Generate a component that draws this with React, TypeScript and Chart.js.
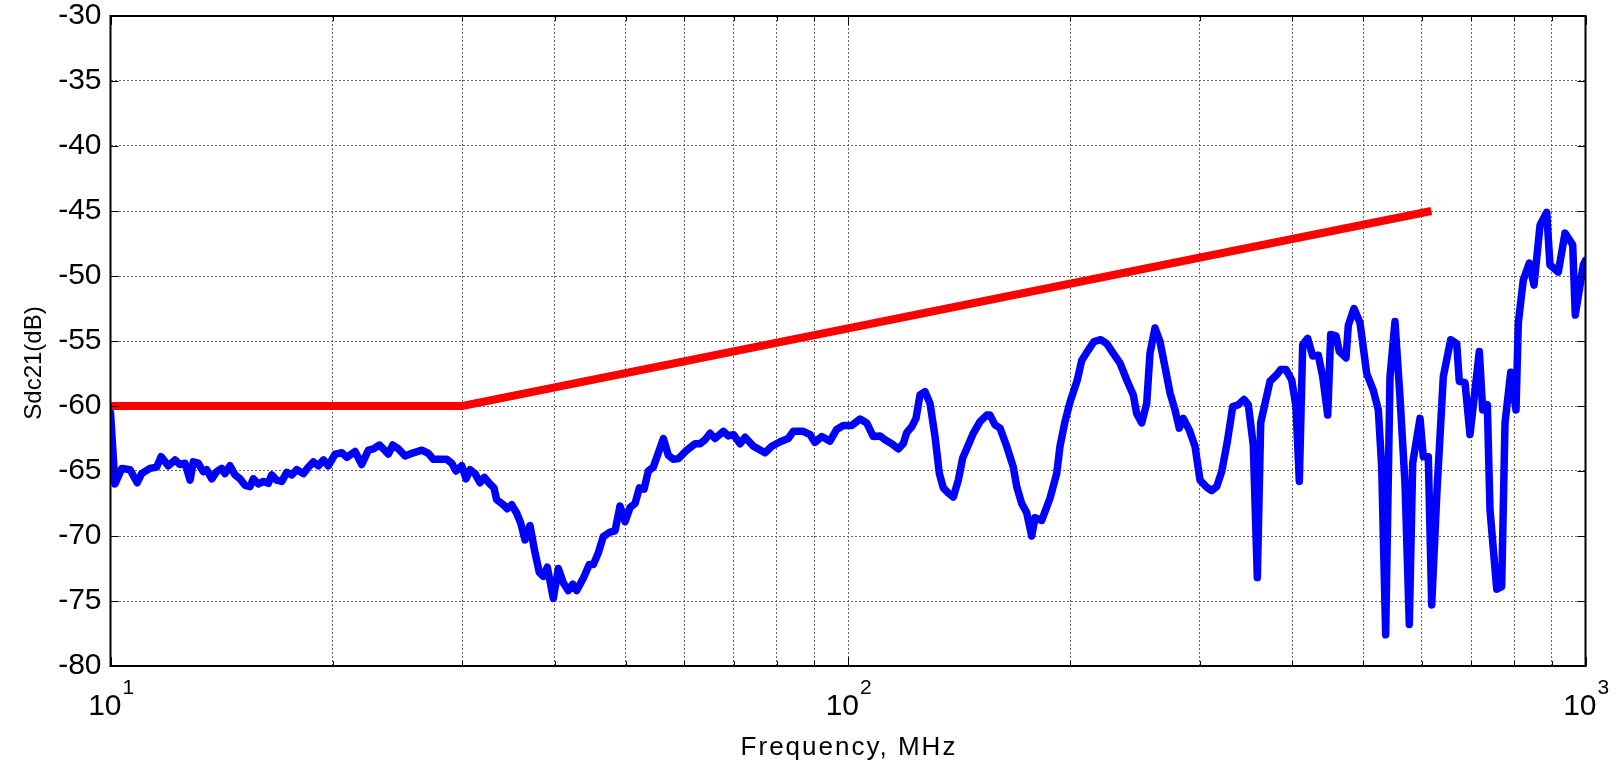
import React, { useEffect, useRef } from 'react';
import { Chart, registerables } from 'chart.js';

Chart.register(...registerables);

// Measured Sdc21 trace (frequency in MHz, value in dB)
const freqMHz = [
  10.0, 10.14, 10.36, 10.63, 10.87, 11.02, 11.31, 11.55, 11.71, 11.98,
  12.23, 12.42, 12.62, 12.82, 12.95, 13.15, 13.36, 13.5, 13.72, 13.93,
  14.15, 14.3, 14.52, 14.75, 14.98, 15.22, 15.46, 15.62, 15.87, 16.12,
  16.37, 16.54, 16.8, 17.07, 17.34, 17.61, 17.89, 18.26, 18.55, 18.84,
  19.14, 19.44, 19.74, 20.16, 20.59, 20.91, 21.46, 21.91, 22.37, 22.72,
  23.15, 23.44, 23.81, 24.14, 24.57, 25.09, 25.74, 26.43, 26.98, 27.4,
  28.57, 29.02, 29.41, 29.94, 30.35, 30.73, 31.21, 31.7, 32.13, 32.7,
  33.11, 33.39, 34.09, 34.52, 35.0, 35.55, 35.99, 36.48, 37.05, 37.64,
  38.15, 38.62, 39.11, 39.85, 40.48, 41.11, 41.76, 42.34, 42.87, 43.76,
  44.59, 45.15, 45.86, 46.58, 47.57, 48.32, 49.08, 49.85, 50.64, 51.44,
  52.13, 52.9, 53.61, 54.46, 55.32, 56.19, 57.07, 57.97, 58.89, 60.45,
  62.03, 63.01, 64.0, 65.01, 66.03, 67.77, 68.83, 69.92, 71.4, 72.52,
  74.43, 77.19, 78.83, 80.9, 82.99, 84.29, 86.97, 88.81, 90.2, 92.11,
  94.53, 96.53, 98.54, 101.16, 103.82, 106.01, 108.22, 110.51, 112.25, 114.62,
  117.01, 118.85, 120.12, 122.01, 123.66, 125.21, 127.18, 129.19, 131.22, 133.0,
  134.67, 136.77, 138.93, 141.12, 143.07, 145.59, 147.88, 151.01, 154.2, 155.8,
  158.25, 160.74, 164.13, 167.56, 169.35, 171.99, 174.69, 177.45, 179.3, 183.09,
  187.89, 191.86, 193.85, 196.9, 200.0, 204.62, 207.43, 211.76, 215.55, 220.1,
  224.27, 228.94, 233.79, 238.75, 243.7, 246.3, 250.19, 254.1, 256.74, 260.79,
  264.88, 269.05, 273.3, 277.57, 281.31, 284.87, 290.25, 295.47, 300.12, 306.45,
  311.27, 316.18, 321.16, 326.82, 332.39, 338.24, 344.31, 348.96, 354.43, 358.92,
  362.74, 367.68, 373.44, 381.3, 386.13, 392.55, 399.62, 405.0, 409.21, 413.56,
  420.09, 426.66, 434.22, 440.2, 447.16, 451.34, 458.86, 463.64, 473.43, 476.85,
  485.41, 494.57, 505.05, 515.57, 523.69, 529.26, 535.87, 543.14, 551.66, 560.33,
  569.2, 576.87, 583.04, 596.52, 602.68, 612.16, 618.68, 628.99, 641.5, 656.45,
  668.88, 674.31, 686.48, 697.21, 706.61, 717.84, 725.42, 736.01, 742.2, 757.97,
  769.77, 777.78, 791.79, 804.97, 810.77, 823.48, 839.13, 851.44, 867.65, 885.92,
  895.05, 918.56, 938.02, 960.82, 968.6, 993.22, 1000.0,
];

const sdc21Db = [
  -60.5, -66.0, -64.8, -64.9, -65.9, -65.2, -64.8, -64.7, -63.9, -64.6,
  -64.15, -64.5, -64.4, -65.7, -64.3, -64.4, -65.05, -64.9, -65.6, -65.05,
  -64.8, -65.2, -64.6, -65.3, -65.6, -66.1, -66.2, -65.6, -66.0, -65.8,
  -65.95, -65.3, -65.7, -65.8, -65.1, -65.3, -64.9, -65.2, -64.7, -64.3,
  -64.6, -64.15, -64.6, -63.7, -63.6, -63.95, -63.5, -64.5, -63.4, -63.3,
  -63.0, -63.3, -63.7, -63.0, -63.3, -63.85, -63.6, -63.4, -63.65, -64.1,
  -64.1, -64.4, -65.0, -64.6, -65.6, -64.9, -65.2, -65.9, -65.5, -66.0,
  -66.3, -67.2, -67.6, -67.9, -67.6, -68.25, -69.0, -70.3, -69.2, -71.3,
  -72.8, -73.1, -72.4, -74.8, -72.5, -73.6, -74.2, -73.7, -74.2, -73.25,
  -72.2, -72.2, -71.3, -70.05, -69.7, -69.6, -67.7, -68.9, -67.8, -67.5,
  -66.3, -66.4, -65.0, -64.7, -63.6, -62.5, -63.8, -64.1, -64.05, -63.4,
  -62.9, -62.9, -62.6, -62.1, -62.5, -61.95, -62.3, -62.2, -62.9, -62.4,
  -63.1, -63.6, -63.1, -62.75, -62.5, -61.95, -61.95, -62.2, -62.8, -62.35,
  -62.7, -61.8, -61.5, -61.5, -61.0, -61.3, -62.35, -62.3, -62.6, -62.9,
  -63.3, -62.9, -62.05, -61.6, -60.95, -59.15, -58.9, -59.8, -62.35, -65.2,
  -66.3, -66.7, -67.0, -65.7, -64.0, -63.0, -62.1, -61.2, -60.7, -60.7,
  -61.45, -61.7, -63.1, -64.7, -66.2, -67.5, -68.2, -70.0, -68.6, -68.8,
  -67.1, -65.2, -63.1, -61.2, -59.7, -58.0, -56.5, -55.7, -55.05, -54.9,
  -55.2, -55.95, -56.7, -58.0, -59.15, -60.6, -61.3, -59.8, -55.95, -54.0,
  -55.05, -57.0, -59.0, -60.3, -61.7, -60.95, -61.85, -63.1, -65.7, -66.25,
  -66.5, -66.2, -65.05, -62.75, -60.05, -59.9, -59.5, -59.9, -63.0, -73.2,
  -61.3, -59.8, -58.1, -57.6, -57.2, -57.2, -58.0, -60.05, -65.8, -55.3,
  -54.8, -56.15, -56.1, -57.75, -60.7, -54.5, -54.6, -55.8, -56.3, -53.8,
  -52.5, -53.6, -57.5, -58.8, -60.3, -64.7, -77.6, -57.75, -53.5, -59.3,
  -65.95, -76.8, -64.4, -60.95, -63.9, -63.9, -75.3, -66.5, -57.75, -54.9,
  -55.2, -58.1, -58.2, -62.2, -59.3, -55.8, -60.3, -59.9, -68.0, -74.1,
  -73.9, -61.3, -57.4, -60.3, -53.6, -50.3, -49.0, -50.7, -46.1, -45.1,
  -49.15, -49.7, -46.7, -47.6, -53.0, -49.15, -48.8,
];

// Limit line
const limitFreqMHz = [10, 30, 618];
const limitDb = [-60, -60, -45];

// Axes
const yTickValues = [-80, -75, -70, -65, -60, -55, -50, -45, -40, -35, -30];
const xGridValues = [10, 20, 30, 40, 50, 60, 70, 80, 90, 100, 200, 300, 400, 500, 600, 700, 800, 900, 1000];
const xDecadeValues = [10, 100, 1000];
const xDecadeExponents = ['1', '2', '3'];

const xTitle = 'Frequency, MHz';
const yTitle = 'Sdc21(dB)';

const FONT = '"Liberation Sans", Arial, Helvetica, sans-serif';

const overlayPlugin = {
  id: 'matlabOverlay',
  afterDraw(chart: any) {
    const { ctx, chartArea: a, scales } = chart;
    const xs = scales.x;
    const ys = scales.y;
    ctx.save();

    // inward tick marks
    ctx.strokeStyle = '#000';
    ctx.lineWidth = 1;
    ctx.setLineDash([]);
    ctx.beginPath();
    xGridValues.forEach((v) => {
      const px = Math.round(xs.getPixelForValue(v)) + 0.5;
      const len = xDecadeValues.includes(v) ? 9 : 5;
      ctx.moveTo(px, a.bottom);
      ctx.lineTo(px, a.bottom - len);
      ctx.moveTo(px, a.top);
      ctx.lineTo(px, a.top + len);
    });
    yTickValues.forEach((v) => {
      const py = Math.round(ys.getPixelForValue(v)) + 0.5;
      ctx.moveTo(a.left, py);
      ctx.lineTo(a.left + 8, py);
      ctx.moveTo(a.right, py);
      ctx.lineTo(a.right - 8, py);
    });
    ctx.stroke();

    // axes box
    ctx.lineWidth = 2;
    ctx.strokeRect(a.left, a.top, a.right - a.left, a.bottom - a.top);

    // x tick labels: 10^n
    ctx.fillStyle = '#000';
    ctx.textBaseline = 'alphabetic';
    xDecadeValues.forEach((v, i) => {
      const px = xs.getPixelForValue(v);
      ctx.font = `30px ${FONT}`;
      ctx.textAlign = 'right';
      ctx.fillText('10', px + 11, a.bottom + 49);
      ctx.font = `21px ${FONT}`;
      ctx.textAlign = 'left';
      ctx.fillText(xDecadeExponents[i], px + 12, a.bottom + 28);
    });

    // axis titles
    ctx.font = `26px ${FONT}`;
    ctx.textAlign = 'center';
    try { (ctx as any).letterSpacing = '2px'; } catch (e) {}
    ctx.fillText(xTitle, (a.left + a.right) / 2 + 1, a.bottom + 89);
    try { (ctx as any).letterSpacing = '0px'; } catch (e) {}

    ctx.save();
    ctx.translate(41, 363);
    ctx.rotate(-Math.PI / 2);
    ctx.font = `24px ${FONT}`;
    ctx.fillText(yTitle, 0, 0);
    ctx.restore();

    ctx.restore();
  },
};

export default function App() {
  const canvasRef = useRef<HTMLCanvasElement | null>(null);

  useEffect(() => {
    document.body.style.margin = '0';
    const canvas = canvasRef.current;
    if (!canvas) return;

    const blueData = freqMHz.map((f, i) => ({ x: f, y: sdc21Db[i] }));
    const redData = limitFreqMHz.map((f, i) => ({ x: f, y: limitDb[i] }));

    const chart = new Chart(canvas, {
      type: 'line',
      data: {
        datasets: [
          {
            label: 'Sdc21',
            data: blueData,
            borderColor: '#0000ff',
            borderWidth: 7.5,
            pointRadius: 0,
            tension: 0,
            borderJoinStyle: 'round',
            borderCapStyle: 'round',
            clip: 0,
            order: 2,
          },
          {
            label: 'Limit',
            data: redData,
            borderColor: '#ff0000',
            borderWidth: 8,
            pointRadius: 0,
            tension: 0,
            borderJoinStyle: 'miter',
            clip: 0,
            order: 1,
          },
        ],
      },
      options: {
        responsive: false,
        animation: false,
        devicePixelRatio: 1,
        parsing: false,
        layout: { padding: { top: 16, right: 31.5, left: 0, bottom: 0 } },
        plugins: {
          legend: { display: false },
          tooltip: { enabled: false },
          title: { display: false },
        },
        scales: {
          x: {
            type: 'logarithmic',
            min: 10,
            max: 1000,
            afterBuildTicks: (scale: any) => {
              scale.ticks = xGridValues.map((v) => ({ value: v }));
            },
            afterFit: (scale: any) => {
              scale.height = 97;
              scale.paddingLeft = 0;
              scale.paddingRight = 0;
            },
            ticks: { display: false },
            grid: { color: '#666666', lineWidth: 1, drawTicks: false },
            border: { display: false, dash: [2, 2] },
          },
          y: {
            type: 'linear',
            min: -80,
            max: -30,
            afterBuildTicks: (scale: any) => {
              scale.ticks = yTickValues.map((v) => ({ value: v }));
            },
            afterFit: (scale: any) => {
              scale.width = 110.5;
              scale.paddingTop = 0;
              scale.paddingBottom = 0;
            },
            ticks: {
              color: '#000',
              font: { family: FONT, size: 30 },
              padding: 9,
            },
            grid: { color: '#666666', lineWidth: 1, drawTicks: false },
            border: { display: false, dash: [2, 2] },
          },
        },
      },
      plugins: [overlayPlugin],
    } as any);

    return () => chart.destroy();
  }, []);

  return (
    <div style={{ width: 1617, height: 763, background: '#fff' }}>
      <canvas ref={canvasRef} width={1617} height={763} style={{ display: 'block' }} />
    </div>
  );
}
